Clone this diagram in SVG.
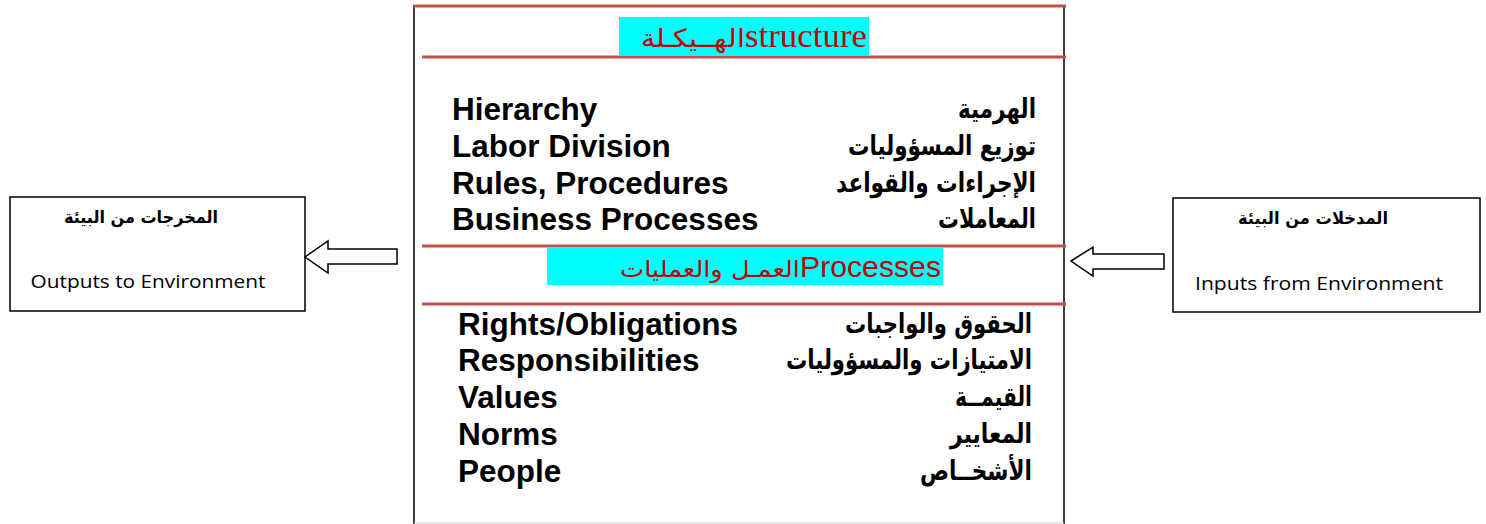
<svg xmlns="http://www.w3.org/2000/svg" width="1486" height="524" viewBox="0 0 1486 524">
<style>
.red{stroke:#C0504D;stroke-width:3;fill:none}
.blk{stroke:#000;stroke-width:1.5;fill:none}
.en{font-family:"Liberation Sans",Arial,sans-serif;font-weight:bold;font-size:31.5px;fill:#000}
.ar{font-family:"DejaVu Sans",sans-serif;font-weight:bold;font-size:27px;fill:#000;text-anchor:end}
.hl{fill:#00FFFF}
.box{fill:#fff;stroke:#000;stroke-width:1.5}
.arrow{fill:#fff;stroke:#000;stroke-width:1.5}
.sm{font-family:"Open Sans","Liberation Sans",sans-serif;font-size:19px;fill:#000;text-anchor:middle}
.smar{font-family:"DejaVu Sans",sans-serif;font-weight:bold;font-size:17px;fill:#000;text-anchor:middle}
</style>
<rect width="1486" height="524" fill="#fff"/>
<g id="main">
<line class="blk" x1="414" y1="6" x2="414" y2="524"/>
<line class="blk" x1="1064" y1="6" x2="1064" y2="524"/>
<line x1="414" y1="523" x2="1064" y2="523" stroke="#d0d0d0" stroke-width="1"/>
<line class="red" x1="413" y1="6" x2="1066" y2="6"/>
<line class="red" x1="422" y1="57" x2="1066" y2="57"/>
<line class="red" x1="422" y1="246" x2="1066" y2="246"/>
<line class="red" x1="422" y1="304" x2="1066" y2="304"/>
<rect class="hl" x="619" y="17" width="250" height="39"/>
<text x="745" y="47" font-family="Liberation Serif,serif" font-size="34" fill="#C00000" textLength="122" lengthAdjust="spacingAndGlyphs">structure</text>
<text x="745" y="47" font-family="DejaVu Serif,serif" font-size="25" fill="#C00000" text-anchor="end" textLength="104" lengthAdjust="spacingAndGlyphs">الهــيكـلة</text>
<rect class="hl" x="547" y="248" width="396" height="37"/>
<text x="800" y="277" font-family="Liberation Sans,Arial,sans-serif" font-size="29.5" fill="#C00000" textLength="141" lengthAdjust="spacingAndGlyphs">Processes</text>
<text x="800" y="277" font-family="DejaVu Sans,sans-serif" font-size="23" fill="#C00000" text-anchor="end" textLength="180" lengthAdjust="spacingAndGlyphs">العمـل والعمليات</text>
<text class="en" x="452" y="120">Hierarchy</text>
<text class="en" x="452" y="157">Labor Division</text>
<text class="en" x="452" y="194">Rules, Procedures</text>
<text class="en" x="452" y="230">Business Processes</text>
<text class="ar" x="1036" y="118" textLength="78" lengthAdjust="spacingAndGlyphs">الهرمية</text>
<text class="ar" x="1036" y="155" textLength="188" lengthAdjust="spacingAndGlyphs">توزيع المسؤوليات</text>
<text class="ar" x="1036" y="192" textLength="200" lengthAdjust="spacingAndGlyphs">الإجراءات والقواعد</text>
<text class="ar" x="1036" y="228" textLength="98" lengthAdjust="spacingAndGlyphs">المعاملات</text>
<text class="en" x="458" y="335">Rights/Obligations</text>
<text class="en" x="458" y="371">Responsibilities</text>
<text class="en" x="458" y="408">Values</text>
<text class="en" x="458" y="445">Norms</text>
<text class="en" x="458" y="482">People</text>
<text class="ar" x="1032" y="333" textLength="187" lengthAdjust="spacingAndGlyphs">الحقوق والواجبات</text>
<text class="ar" x="1032" y="369" textLength="246" lengthAdjust="spacingAndGlyphs">الامتيازات والمسؤوليات</text>
<text class="ar" x="1032" y="406" textLength="77" lengthAdjust="spacingAndGlyphs">القيمــة</text>
<text class="ar" x="1032" y="443" textLength="82" lengthAdjust="spacingAndGlyphs">المعايير</text>
<text class="ar" x="1032" y="480" textLength="112" lengthAdjust="spacingAndGlyphs">الأشخــاص</text>
</g>
<g id="outputs">
<rect class="box" x="10" y="197" width="295" height="114"/>
<text class="smar" x="141" y="223" textLength="154" lengthAdjust="spacingAndGlyphs">المخرجات من البيئة</text>
<text class="sm" x="148" y="288" textLength="235" lengthAdjust="spacingAndGlyphs">Outputs to Environment</text>
</g>
<g id="inputs">
<rect class="box" x="1173" y="198" width="307" height="114"/>
<text class="smar" x="1313" y="224" textLength="150" lengthAdjust="spacingAndGlyphs">المدخلات من البيئة</text>
<text class="sm" x="1319" y="290" textLength="248" lengthAdjust="spacingAndGlyphs">Inputs  from Environment</text>
</g>
<g id="connectors">
<path class="arrow" d="M305,257 L328,241 L328,249 L397,249 L397,264 L328,264 L328,273 Z"/>
<path class="arrow" d="M1071,261 L1093,247 L1093,254 L1164,254 L1164,269 L1093,269 L1093,276 Z"/>
</g>
</svg>
